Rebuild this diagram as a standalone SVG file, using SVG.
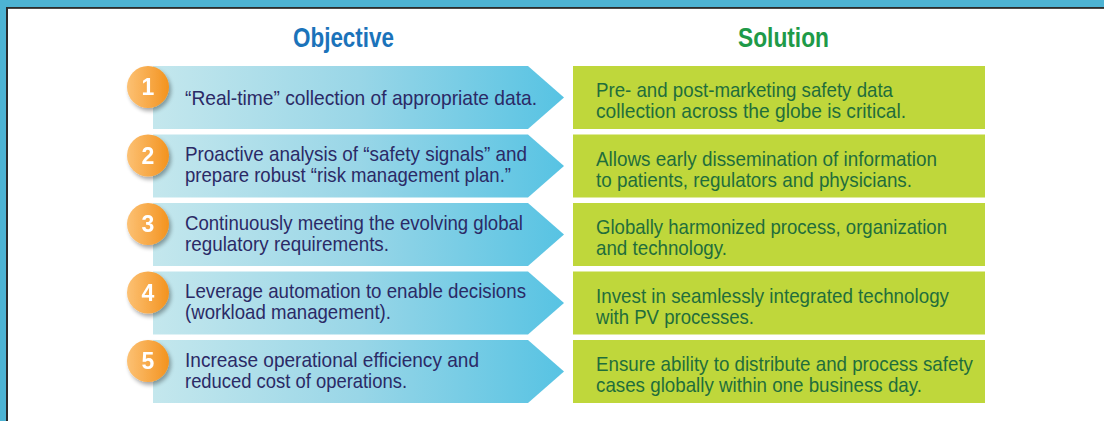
<svg xmlns="http://www.w3.org/2000/svg" width="1104" height="421" viewBox="0 0 1104 421">
<defs>
<linearGradient id="arrowGrad" x1="153" y1="0" x2="564" y2="0" gradientUnits="userSpaceOnUse">
<stop offset="0" stop-color="#c4e7ed"/>
<stop offset="0.5" stop-color="#99d6e7"/>
<stop offset="1" stop-color="#57c3e3"/>
</linearGradient>
<linearGradient id="circGrad" x1="0" y1="0" x2="1" y2="0">
<stop offset="0" stop-color="#fcc174"/>
<stop offset="1" stop-color="#f3931f"/>
</linearGradient>
<linearGradient id="darkLine" x1="0" y1="0" x2="0" y2="1">
<stop offset="0" stop-color="#1e1e1e"/>
<stop offset="1" stop-color="#5a5a5a"/>
</linearGradient>
<filter id="shadow" x="-40%" y="-40%" width="180%" height="180%">
<feGaussianBlur in="SourceAlpha" stdDeviation="2"/>
<feOffset dx="2" dy="3" result="b"/>
<feComponentTransfer><feFuncA type="linear" slope="0.35"/></feComponentTransfer>
<feMerge><feMergeNode/><feMergeNode in="SourceGraphic"/></feMerge>
</filter>
</defs>
<style>
.arrow{fill:url(#arrowGrad)}
.box{fill:#bfd73b}
.circ{fill:url(#circGrad)}
.num{font-family:"Liberation Sans",Arial,sans-serif;font-weight:bold;font-size:23px;fill:#ffffff;text-anchor:middle}
.obj{font-family:"Liberation Sans",Arial,sans-serif;font-size:21px;fill:#2b2a66}
.sol{font-family:"Liberation Sans",Arial,sans-serif;font-size:21px;fill:#1f6e3b}
.hdr{font-family:"Liberation Sans",Arial,sans-serif;font-weight:bold;font-size:28px}
</style>
<rect x="0" y="0" width="1104" height="421" fill="#ffffff"/>
<g id="frame">
<rect x="0" y="0" width="1104" height="7" fill="#4db3d3"/>
<rect x="0" y="0" width="6" height="421" fill="#4db3d3"/>
<rect x="6" y="7" width="1098" height="2" fill="url(#darkLine)"/>
<rect x="6" y="7" width="2" height="414" fill="#2a2a2a"/>
</g>
<g id="headers">
<text class="hdr" x="293" y="47" fill="#1b73ba" textLength="101" lengthAdjust="spacingAndGlyphs">Objective</text>
<text class="hdr" x="738" y="47" fill="#1e9a48" textLength="91" lengthAdjust="spacingAndGlyphs">Solution</text>
</g>
<g id="connectors"></g>

<g id="row1">
<g id="objective1">
<path class="arrow" d="M153,66 H528 L564,97.5 L528,129 H153 Z"/>
<text class="obj" x="185" y="105" textLength="352" lengthAdjust="spacingAndGlyphs">“Real-time” collection of appropriate data.</text>
</g>
<g id="badge1" filter="url(#shadow)">
<circle class="circ" cx="148" cy="87" r="21"/>
<text class="num" x="148" y="95">1</text>
</g>
<g id="solution1">
<rect class="box" x="573" y="66" width="412" height="63"/>
<text class="sol" x="596" y="97" textLength="297" lengthAdjust="spacingAndGlyphs">Pre- and post-marketing safety data</text>
<text class="sol" x="596" y="118" textLength="310" lengthAdjust="spacingAndGlyphs">collection across the globe is critical.</text>
</g>
</g>

<g id="row2">
<g id="objective2">
<path class="arrow" d="M153,134.5 H528 L564,166 L528,197.5 H153 Z"/>
<text class="obj" x="185" y="161" textLength="342" lengthAdjust="spacingAndGlyphs">Proactive analysis of “safety signals” and</text>
<text class="obj" x="185" y="182" textLength="326" lengthAdjust="spacingAndGlyphs">prepare robust “risk management plan.”</text>
</g>
<g id="badge2" filter="url(#shadow)">
<circle class="circ" cx="148" cy="155.5" r="21"/>
<text class="num" x="148" y="163.5">2</text>
</g>
<g id="solution2">
<rect class="box" x="573" y="134.5" width="412" height="63"/>
<text class="sol" x="596" y="165.5" textLength="341" lengthAdjust="spacingAndGlyphs">Allows early dissemination of information</text>
<text class="sol" x="596" y="186.5" textLength="316" lengthAdjust="spacingAndGlyphs">to patients, regulators and physicians.</text>
</g>
</g>

<g id="row3">
<g id="objective3">
<path class="arrow" d="M153,203 H528 L564,234.5 L528,266 H153 Z"/>
<text class="obj" x="185" y="229.5" textLength="338" lengthAdjust="spacingAndGlyphs">Continuously meeting the evolving global</text>
<text class="obj" x="185" y="250.5" textLength="204" lengthAdjust="spacingAndGlyphs">regulatory requirements.</text>
</g>
<g id="badge3" filter="url(#shadow)">
<circle class="circ" cx="148" cy="224" r="21"/>
<text class="num" x="148" y="232">3</text>
</g>
<g id="solution3">
<rect class="box" x="573" y="203" width="412" height="63"/>
<text class="sol" x="596" y="234" textLength="351" lengthAdjust="spacingAndGlyphs">Globally harmonized process, organization</text>
<text class="sol" x="596" y="255" textLength="131" lengthAdjust="spacingAndGlyphs">and technology.</text>
</g>
</g>

<g id="row4">
<g id="objective4">
<path class="arrow" d="M153,271.5 H528 L564,303 L528,334.5 H153 Z"/>
<text class="obj" x="185" y="298" textLength="341" lengthAdjust="spacingAndGlyphs">Leverage automation to enable decisions</text>
<text class="obj" x="185" y="319" textLength="206" lengthAdjust="spacingAndGlyphs">(workload management).</text>
</g>
<g id="badge4" filter="url(#shadow)">
<circle class="circ" cx="148" cy="292.5" r="21"/>
<text class="num" x="148" y="300.5">4</text>
</g>
<g id="solution4">
<rect class="box" x="573" y="271.5" width="412" height="63"/>
<text class="sol" x="596" y="302.5" textLength="353" lengthAdjust="spacingAndGlyphs">Invest in seamlessly integrated technology</text>
<text class="sol" x="596" y="323.5" textLength="158" lengthAdjust="spacingAndGlyphs">with PV processes.</text>
</g>
</g>

<g id="row5">
<g id="objective5">
<path class="arrow" d="M153,340 H528 L564,371.5 L528,403 H153 Z"/>
<text class="obj" x="185" y="366.5" textLength="294" lengthAdjust="spacingAndGlyphs">Increase operational efficiency and</text>
<text class="obj" x="185" y="387.5" textLength="222" lengthAdjust="spacingAndGlyphs">reduced cost of operations.</text>
</g>
<g id="badge5" filter="url(#shadow)">
<circle class="circ" cx="148" cy="361" r="21"/>
<text class="num" x="148" y="369">5</text>
</g>
<g id="solution5">
<rect class="box" x="573" y="340" width="412" height="63"/>
<text class="sol" x="596" y="371" textLength="377" lengthAdjust="spacingAndGlyphs">Ensure ability to distribute and process safety</text>
<text class="sol" x="596" y="392" textLength="326" lengthAdjust="spacingAndGlyphs">cases globally within one business day.</text>
</g>
</g>
</svg>
